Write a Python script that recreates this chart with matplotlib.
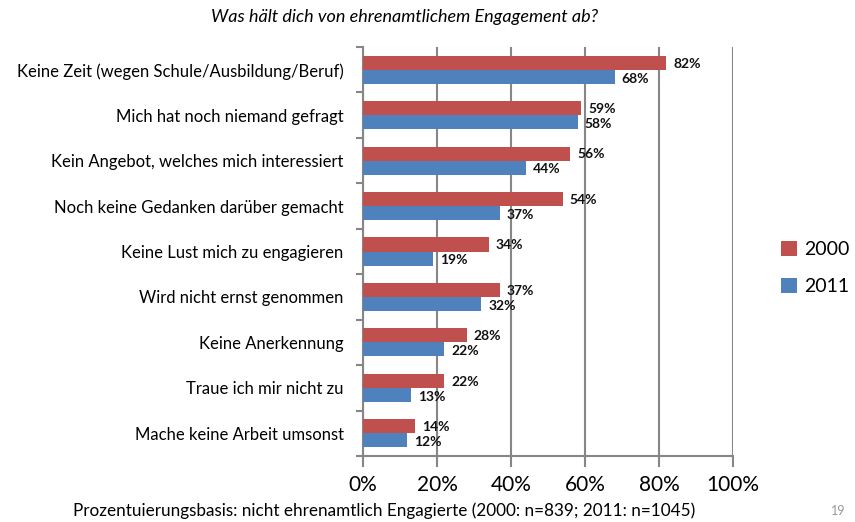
import matplotlib
matplotlib.use("Agg")
import matplotlib.pyplot as plt
import numpy as np

categories = [
    "Keine Zeit (wegen Schule/Ausbildung/Beruf)",
    "Mich hat noch niemand gefragt",
    "Kein Angebot, welches mich interessiert",
    "Noch keine Gedanken darüber gemacht",
    "Keine Lust mich zu engagieren",
    "Wird nicht ernst genommen",
    "Keine Anerkennung",
    "Traue ich mir nicht zu",
    "Mache keine Arbeit umsonst",
]
values_2000 = [82, 59, 56, 54, 34, 37, 28, 22, 14]
values_2011 = [68, 58, 44, 37, 19, 32, 22, 13, 12]
series_labels = ["2000", "2011"]
xticks = [0, 20, 40, 60, 80, 100]

red = "#C0504D"
blue = "#4F81BD"
grid = "#868686"

plt.rcParams['font.family'] = ['Lato', 'DejaVu Sans']

fig = plt.figure(figsize=(8.55, 5.22), dpi=100)
ax = fig.add_axes([363/855, 1-456/522, 370/855, 409/522])

n = len(categories)
y = np.arange(n)
h = 0.31
b1 = ax.barh(y - h/2, values_2000, height=h, color=red, label=series_labels[0], zorder=3)
b2 = ax.barh(y + h/2, values_2011, height=h, color=blue, label=series_labels[1], zorder=3)

for v, yy in zip(values_2000, y - h/2):
    ax.text(v + 1.9, yy + 0.02, f"{v}%", va="center", ha="left", fontsize=10, fontweight="bold", color="#111111")
for v, yy in zip(values_2011, y + h/2):
    ax.text(v + 1.9, yy + 0.04, f"{v}%", va="center", ha="left", fontsize=10, fontweight="bold", color="#111111")

ax.set_ylim(n - 0.5, -0.5)
ax.set_xlim(0, 100)
ax.set_yticks(np.arange(n + 1) - 0.5)
ax.set_yticklabels([])
ax.set_yticks(y, minor=True)
ax.set_yticklabels(categories, minor=True, fontsize=12)
ax.tick_params(axis='y', which='minor', length=0, pad=14)
ax.tick_params(axis='y', which='major', length=5, width=1.5, color=grid, direction='out')

ax.set_xticks(xticks)
ax.set_xticklabels([f"{t}%" for t in xticks], fontsize=15)
ax.tick_params(axis='x', length=8, width=1.5, color=grid, pad=6)
ax.xaxis.grid(True, color=grid, linewidth=1.5, zorder=0)

for s in ["top", "right"]:
    ax.spines[s].set_visible(False)
for s in ["left", "bottom"]:
    ax.spines[s].set_color(grid)
    ax.spines[s].set_linewidth(1.5)

fig.legend(handles=[b1, b2], labels=series_labels, loc="center left",
           bbox_to_anchor=(781/855, 1-268/522), frameon=False, fontsize=14,
           handlelength=0.8, handleheight=0.8, handletextpad=0.4, labelspacing=1.0,
           borderpad=0, borderaxespad=0)

fig.text(405/855, 1-17/522, "Was hält dich von ehrenamtlichem Engagement ab?",
         ha="center", va="center", fontsize=13, style="italic")
fig.text(73/855, 1-511/522,
         "Prozentuierungsbasis: nicht ehrenamtlich Engagierte (2000: n=839; 2011: n=1045)",
         ha="left", va="center", fontsize=12.3)
fig.text(845/855, 1-511/522, "19", ha="right", va="center", fontsize=9, color="#999999")

fig.savefig("out.png", dpi=100)
